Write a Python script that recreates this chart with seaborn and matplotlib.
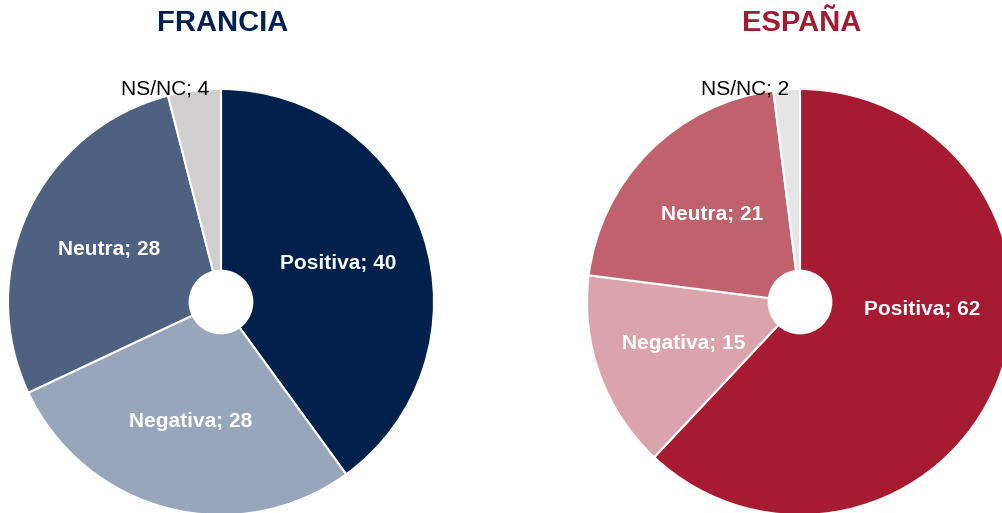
import numpy as np
import seaborn as sns
import matplotlib.pyplot as plt
from matplotlib.patches import Circle

sns.set_style('white')
plt.rcParams['font.family'] = ['Liberation Sans', 'DejaVu Sans']

categories = ['Positiva', 'Negativa', 'Neutra', 'NS/NC']
francia = [40, 28, 28, 4]
espana = [62, 15, 21, 2]

francia_colors = ['#00214c', '#97a6ba', '#4e6180', '#d0cecf']
espana_colors = ['#a61b31', '#dba3ab', '#c0616d', '#e5e5e5']

W, H = 1003, 513
R = 213  # pie radius in px


def draw_pie(cx, cy, values, colors, title, title_color, overrides=None):
    # axes sized so that radius 1 == R pixels
    ax = plt.gcf().add_axes([(cx - R) / W, (H - cy - R) / H, 2 * R / W, 2 * R / H])
    wedges, texts = ax.pie(
        values,
        labels=[f'{c}; {v}' for c, v in zip(categories, values)],
        colors=colors,
        startangle=90,
        counterclock=False,
        labeldistance=0.58,
        wedgeprops=dict(edgecolor='white', linewidth=1.5),
        textprops=dict(color='white', fontsize=15, fontweight='bold',
                       ha='center', va='center'),
    )
    # small slice label sits outside, in black
    texts[-1].set_color('black')
    texts[-1].set_fontweight('normal')
    texts[-1].set_position((-0.26, 1.0))
    if overrides:
        for i, pos in overrides.items():
            texts[i].set_position(pos)
    for t in texts:
        t.set_ha('center')
        t.set_va('center')
    ax.add_patch(Circle((0, 0), 0.152, facecolor='white', edgecolor='none', zorder=5))
    ax.set_xlim(-1, 1)
    ax.set_ylim(-1, 1)
    ax.set_aspect('equal')
    ax.axis('off')
    plt.gcf().text(cx / W + 0.002, 1 - 23 / H, title, color=title_color,
                   fontsize=21, fontweight='bold', ha='center', va='center')


fig = plt.figure(figsize=(W / 100, H / 100), dpi=100)
draw_pie(221, 302, francia, francia_colors, 'FRANCIA', '#002050')
draw_pie(800, 302, espana, espana_colors, 'ESPAÑA', '#a51a30',
         overrides={0: (0.573, -0.033)})
fig.savefig('out.png', dpi=100)
